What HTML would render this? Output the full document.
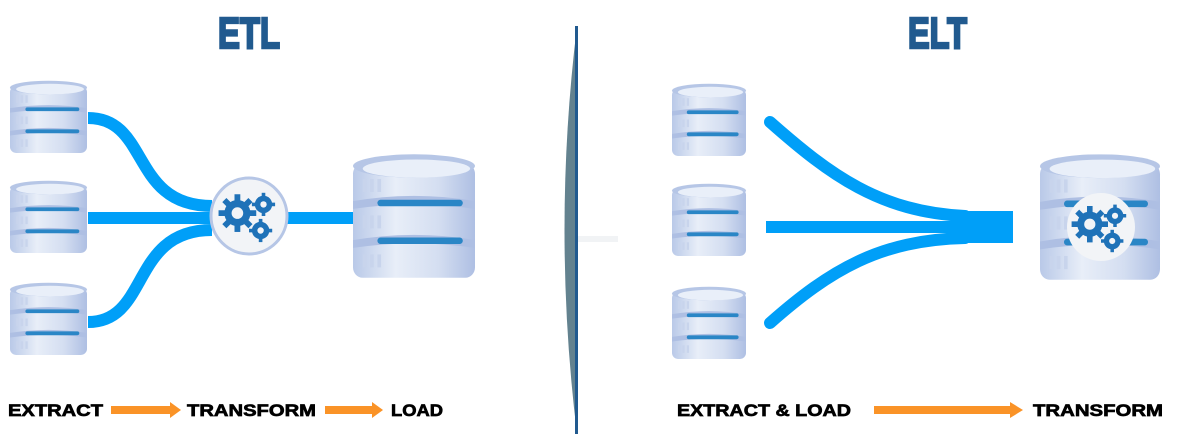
<!DOCTYPE html>
<html><head><meta charset="utf-8"><style>
html,body{margin:0;padding:0;background:#fff;}
svg{display:block}
text{font-family:"Liberation Sans",sans-serif;font-weight:bold}
</style></head><body>
<svg width="1200" height="446" viewBox="0 0 1200 446" xmlns="http://www.w3.org/2000/svg">
<defs>
<linearGradient id="g" x1="0" x2="1" y1="0" y2="0">
<stop offset="0" stop-color="#b9c9e8"/><stop offset="0.35" stop-color="#e8eef8"/><stop offset="0.7" stop-color="#d4def1"/><stop offset="1" stop-color="#aebfe3"/>
</linearGradient>
<g id="db">
<rect x="0" y="8" width="100" height="88" rx="8" fill="url(#g)"/>
<ellipse cx="50" cy="10" rx="50" ry="9" fill="#b6c6e6"/>
<ellipse cx="52" cy="12" rx="44" ry="7" fill="#e9eff9"/>
<path d="M0 37 Q50 29 100 37 L100 43 Q50 36 0 43Z" fill="#aebfe3"/>
<path d="M0 67 Q50 59 100 67 L100 73 Q50 66 0 73Z" fill="#aebfe3"/>
<rect x="20" y="36" width="70" height="5" rx="2.5" fill="#2a86c6"/>
<rect x="20" y="65" width="70" height="5" rx="2.5" fill="#2a86c6"/>
<g fill="#c8d4ec"><rect x="8" y="20" width="3" height="10"/><rect x="14" y="20" width="3" height="10"/><rect x="20" y="20" width="3" height="10"/>
<rect x="8" y="48" width="3" height="10"/><rect x="14" y="48" width="3" height="10"/><rect x="20" y="48" width="3" height="10"/>
<rect x="8" y="78" width="3" height="10"/><rect x="14" y="78" width="3" height="10"/><rect x="20" y="78" width="3" height="10"/></g>
</g>
<g id="gears" fill="#1f72b8">
<circle cx="-8" cy="-2" r="9"/>
<g stroke="#1f72b8" stroke-width="4"><line x1="-8" y1="-15" x2="-8" y2="11"/><line x1="-21" y1="-2" x2="5" y2="-2"/><line x1="-17" y1="-11" x2="1" y2="7"/><line x1="1" y1="-11" x2="-17" y2="7"/></g>
<circle cx="-8" cy="-2" r="4" fill="#f2f4f7"/>
<circle cx="10" cy="-8" r="6"/><g stroke="#1f72b8" stroke-width="2.5"><line x1="10" y1="-16" x2="10" y2="0"/><line x1="2" y1="-8" x2="18" y2="-8"/></g><circle cx="10" cy="-8" r="2.2" fill="#f2f4f7"/>
<circle cx="8" cy="10" r="6"/><g stroke="#1f72b8" stroke-width="2.5"><line x1="8" y1="2" x2="8" y2="18"/><line x1="0" y1="10" x2="16" y2="10"/></g><circle cx="8" cy="10" r="2.2" fill="#f2f4f7"/>
</g>
</defs>

<text x="218" y="48" font-size="44" fill="#215a8f" stroke="#215a8f" stroke-width="2.5" textLength="62" lengthAdjust="spacingAndGlyphs">ETL</text>
<text x="908" y="48" font-size="44" fill="#215a8f" stroke="#215a8f" stroke-width="2.5" textLength="59" lengthAdjust="spacingAndGlyphs">ELT</text>

<path d="M577 26 Q552 230 577 434 Z" fill="#63828f"/>
<rect x="575" y="26" width="3" height="408" fill="#215a8f"/>
<rect x="578" y="236" width="40" height="6" fill="#f1f3f5"/>

<g stroke="#009ff8" stroke-width="12" fill="none">
<path d="M88 118 C150 118 130 206 212 206"/>
<line x1="88" y1="218" x2="212" y2="218"/>
<path d="M88 322 C150 322 130 230 212 230"/>
<line x1="285" y1="218" x2="355" y2="218"/>
</g>
<circle cx="249" cy="216" r="38" fill="#f2f4f7" stroke="#b6c6e6" stroke-width="3"/>
<use href="#gears" transform="translate(249,216) scale(1.45)"/>

<use href="#db" transform="translate(10,80) scale(0.77,0.76)"/>
<use href="#db" transform="translate(10,180) scale(0.77,0.76)"/>
<use href="#db" transform="translate(10,282) scale(0.77,0.76)"/>
<use href="#db" transform="translate(353,153) scale(1.22,1.3)"/>

<g stroke="#009ff8" stroke-width="12" fill="none" stroke-linecap="round">
<path d="M770 122 C830 175 880 212 965 216"/>
<path d="M770 323 C830 270 880 240 965 238"/>
</g>
<rect x="766" y="221" width="200" height="12" fill="#009ff8"/>
<rect x="960" y="211" width="53" height="32" fill="#009ff8"/>

<use href="#db" transform="translate(672,83) scale(0.74,0.76)"/>
<use href="#db" transform="translate(672,183) scale(0.74,0.76)"/>
<use href="#db" transform="translate(672,286) scale(0.74,0.76)"/>
<use href="#db" transform="translate(1040,153) scale(1.2,1.32)"/>
<circle cx="1101" cy="227" r="34" fill="#f2f4f7"/>
<use href="#gears" transform="translate(1101,227) scale(1.4)"/>

<g font-size="17" fill="#000" stroke="#000" stroke-width="0.7">
<text x="8" y="416" textLength="95" lengthAdjust="spacingAndGlyphs">EXTRACT</text>
<text x="187" y="416" textLength="129" lengthAdjust="spacingAndGlyphs">TRANSFORM</text>
<text x="391" y="416" textLength="52" lengthAdjust="spacingAndGlyphs">LOAD</text>
<text x="677" y="416" textLength="174" lengthAdjust="spacingAndGlyphs">EXTRACT &amp; LOAD</text>
<text x="1033" y="416" textLength="130" lengthAdjust="spacingAndGlyphs">TRANSFORM</text>
</g>
<g fill="#fa9327">
<rect x="111" y="406" width="60" height="8"/><path d="M170 402 L181 410 L170 418Z"/>
<rect x="325" y="406" width="48" height="8"/><path d="M372 402 L383 410 L372 418Z"/>
<rect x="874" y="406" width="138" height="8"/><path d="M1010 402 L1023 410 L1010 418Z"/>
</g>
</svg>
</body></html>
